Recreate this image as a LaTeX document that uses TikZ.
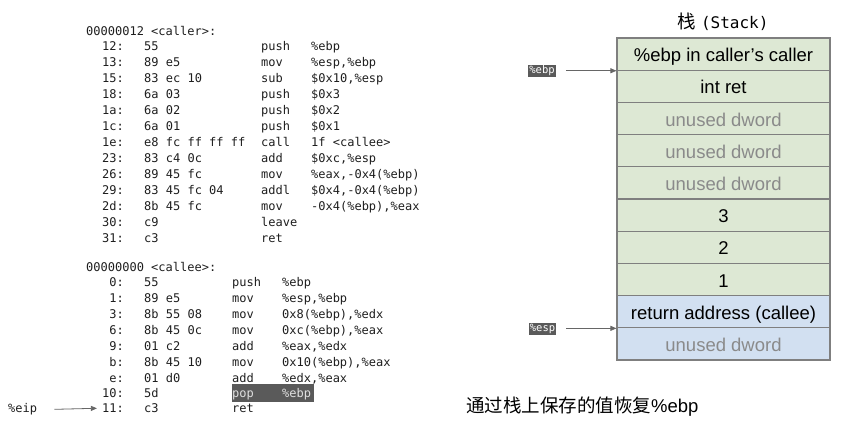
\documentclass[tikz,border=0pt]{standalone}
\usepackage{fontspec}
\setmainfont{Liberation Sans}
\setmonofont{DejaVu Sans Mono}
\newfontfamily\cjk{Noto Sans CJK SC}
\usetikzlibrary{arrows.meta}
\definecolor{stgreen}{HTML}{DDE8D4}
\definecolor{stblue}{HTML}{D2E0F1}
\definecolor{stborder}{HTML}{7F7F7F}
\definecolor{hlgray}{HTML}{5A5A5A}
\definecolor{codetext}{HTML}{1E1E1E}
\definecolor{unusedtext}{HTML}{8A8A8A}
\newcommand{\asmln}[7]{%
  \node[addr] (#1a) at (124,#2) {#4};
  \node[code] (#1b) at (144,#2) {#5};
  \node[code] (#1m) at (#3,#2) {#6};
  \node[code] (#1o) at (#3+50,#2) {#7};}
\begin{document}
\begin{tikzpicture}[x=1pt,y=-1pt,
  codefont/.style={font=\fontsize{12}{14}\selectfont\ttfamily, text=codetext},
  code/.style={codefont, anchor=mid west, inner sep=0pt, yshift=-1.5pt},
  addr/.style={codefont, anchor=mid east, inner sep=0pt, yshift=-1.5pt},
  stackrow/.style={draw=stborder, line width=1.1pt, minimum width=213pt, minimum height=32.2pt, inner sep=0pt, text height=15pt, text depth=0pt, font=\fontsize{18.5}{20}\selectfont},
  greenrow/.style={stackrow, fill=stgreen},
  bluerow/.style={stackrow, fill=stblue},
  unused/.style={text=unusedtext},
  reglabel/.style={fill=hlgray, text=white, font=\fontsize{10.5}{12}\selectfont\ttfamily, inner xsep=1pt, inner ysep=1.5pt, text height=7.5pt, text depth=1.5pt},
  ptr/.style={draw=black!60, line width=0.8pt, -{Triangle[length=6pt,width=5pt]}}
]
\useasboundingbox (0,0) rectangle (865,423);

% ---------- caller ----------
\node[code] (callerhdr) at (86,31) {00000012 <caller>:};
\asmln{c1}{46.5}{261}{12:}{55}{push}{\%ebp}
\asmln{c2}{62.5}{261}{13:}{89 e5}{mov}{\%esp,\%ebp}
\asmln{c3}{78.5}{261}{15:}{83 ec 10}{sub}{\$0x10,\%esp}
\asmln{c4}{94.5}{261}{18:}{6a 03}{push}{\$0x3}
\asmln{c5}{110.5}{261}{1a:}{6a 02}{push}{\$0x2}
\asmln{c6}{126.5}{261}{1c:}{6a 01}{push}{\$0x1}
\asmln{c7}{142.5}{261}{1e:}{e8 fc ff ff ff}{call}{1f <callee>}
\asmln{c8}{158.5}{261}{23:}{83 c4 0c}{add}{\$0xc,\%esp}
\asmln{c9}{174.5}{261}{26:}{89 45 fc}{mov}{\%eax,-0x4(\%ebp)}
\asmln{c10}{190.5}{261}{29:}{83 45 fc 04}{addl}{\$0x4,-0x4(\%ebp)}
\asmln{c11}{206.5}{261}{2d:}{8b 45 fc}{mov}{-0x4(\%ebp),\%eax}
\node[addr] (c12a) at (124,222.5) {30:};
\node[code] (c12b) at (144,222.5) {c9};
\node[code] (c12m) at (261,222.5) {leave};
\node[addr] (c13a) at (124,238.5) {31:};
\node[code] (c13b) at (144,238.5) {c3};
\node[code] (c13m) at (261,238.5) {ret};

% ---------- callee ----------
\node[code] (calleehdr) at (86,267) {00000000 <callee>:};
\fill[hlgray] (232,384) rectangle (313.5,401.5);
\asmln{e1}{282.5}{232}{0:}{55}{push}{\%ebp}
\asmln{e2}{298.5}{232}{1:}{89 e5}{mov}{\%esp,\%ebp}
\asmln{e3}{314.5}{232}{3:}{8b 55 08}{mov}{0x8(\%ebp),\%edx}
\asmln{e4}{330.5}{232}{6:}{8b 45 0c}{mov}{0xc(\%ebp),\%eax}
\asmln{e5}{346.5}{232}{9:}{01 c2}{add}{\%eax,\%edx}
\asmln{e6}{362.5}{232}{b:}{8b 45 10}{mov}{0x10(\%ebp),\%eax}
\asmln{e7}{378.5}{232}{e:}{01 d0}{add}{\%edx,\%eax}
\node[addr] (e8a) at (124,393) {10:};
\node[code] (e8b) at (144,393) {5d};
\node[code, text=black!12] (e8m) at (232,393) {pop};
\node[code, text=black!12] (e8o) at (282,393) {\%ebp};
\node[addr] (e9a) at (124,408.5) {11:};
\node[code] (e9b) at (144,408.5) {c3};
\node[code] (e9m) at (232,408.5) {ret};

\node[code] (eip) at (8,408.5) {\%eip};
\draw[ptr] (eip.east) ++(17,0) coordinate (eipstart) (eipstart) -- ([xshift=-5pt]e9a.west);

% ---------- stack ----------
\node (title) at (723,22) {\fontsize{18.5}{20}\selectfont\cjk 栈\hspace{5pt}\fontsize{16}{18}\selectfont\ttfamily (Stack)};
\node[greenrow] (s1) at (723.5,54.1) {\%ebp in caller's caller};
\node[greenrow] (s2) at (723.5,86.3) {int ret};
\node[greenrow, unused] (s3) at (723.5,118.5) {unused dword};
\node[greenrow, unused] (s4) at (723.5,150.7) {unused dword};
\node[greenrow, unused] (s5) at (723.5,182.9) {unused dword};
\node[greenrow] (s6) at (723.5,215.1) {3};
\node[greenrow] (s7) at (723.5,247.3) {2};
\node[greenrow] (s8) at (723.5,279.5) {1};
\node[bluerow] (s9) at (723.5,311.7) {return address (callee)};
\node[bluerow, unused] (s10) at (723.5,343.9) {unused dword};

\node[reglabel] (ebplbl) at (542,70.5) {\%ebp};
\node[reglabel] (esplbl) at (542.5,328.5) {\%esp};
\draw[ptr, shorten <=10pt] (ebplbl.east |- s1.south west) -- (s1.south west);
\draw[ptr, shorten <=10pt] (esplbl.east |- s9.south west) -- (s9.south west);

\node[anchor=west, inner sep=0pt] (note) at (466,407) {\fontsize{18.5}{20}\selectfont{\cjk 通过栈上保存的值恢复}\%ebp};
\end{tikzpicture}
\end{document}
